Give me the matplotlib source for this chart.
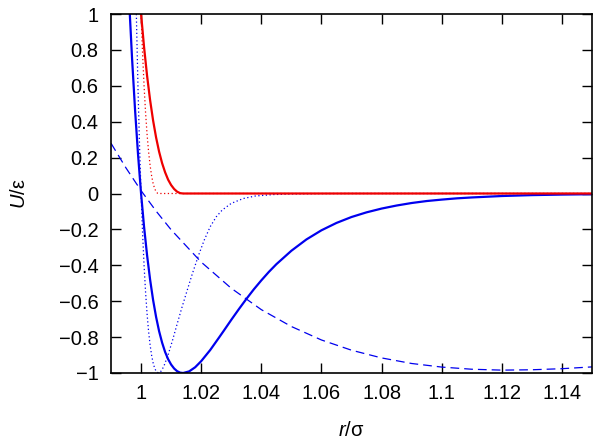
import matplotlib
matplotlib.use("Agg")
import matplotlib.pyplot as plt

plt.rcParams['font.family'] = ['Liberation Sans', 'DejaVu Sans']
plt.rcParams['mathtext.fontset'] = 'custom'
plt.rcParams['mathtext.rm'] = 'Liberation Sans'
plt.rcParams['mathtext.it'] = 'Liberation Sans:italic'

# ---- data ----
# blue solid: full steep potential
solid_r = [0.996, 0.997, 0.998, 0.999, 1.000, 1.001, 1.002, 1.003, 1.004, 1.005,
           1.006, 1.007, 1.008, 1.009, 1.010, 1.011, 1.012, 1.013, 1.014, 1.016,
           1.018, 1.020, 1.023, 1.026, 1.0275, 1.030, 1.0325, 1.035, 1.0375, 1.040,
           1.0425, 1.045, 1.050, 1.055, 1.060, 1.065, 1.070, 1.075, 1.080, 1.085,
           1.090, 1.095, 1.100, 1.105, 1.110, 1.120, 1.130, 1.140, 1.150]
solid_u = [1.084, 0.754, 0.466, 0.216, 0.000, -0.186, -0.344, -0.479, -0.593, -0.688,
           -0.767, -0.831, -0.883, -0.923, -0.953, -0.975, -0.990, -0.998, -1.000, -0.991,
           -0.968, -0.934, -0.872, -0.801, -0.765, -0.704, -0.645, -0.588, -0.534, -0.484,
           -0.437, -0.394, -0.319, -0.256, -0.205, -0.164, -0.131, -0.105, -0.084, -0.067,
           -0.053, -0.042, -0.034, -0.027, -0.022, -0.014, -0.009, -0.006, -0.004]

# red solid: repulsive (shifted) part of the blue solid curve
rep_r = [0.996, 0.997, 0.998, 0.999, 1.000, 1.001, 1.002, 1.003, 1.004, 1.005,
         1.006, 1.007, 1.008, 1.009, 1.010, 1.011, 1.012, 1.013, 1.014, 1.150]
rep_u = [2.084, 1.754, 1.466, 1.216, 1.000, 0.815, 0.656, 0.521, 0.407, 0.312,
         0.233, 0.169, 0.118, 0.077, 0.047, 0.025, 0.010, 0.002, 0.000, 0.000]

# blue dotted: steeper, narrower potential
dot_r = [0.998, 0.9985, 0.999, 0.9995, 1.000, 1.0005, 1.001, 1.0015, 1.002, 1.0025,
         1.003, 1.0035, 1.004, 1.0045, 1.005, 1.0058, 1.0065, 1.0075, 1.009, 1.0105,
         1.012, 1.0135, 1.0152, 1.017, 1.019, 1.021, 1.023, 1.025, 1.027, 1.030,
         1.034, 1.038, 1.044, 1.050, 1.060, 1.070, 1.150]
dot_u = [1.381, 0.945, 0.575, 0.263, 0.000, -0.219, -0.401, -0.550, -0.671, -0.768,
         -0.843, -0.901, -0.943, -0.972, -0.990, -1.000, -0.993, -0.966, -0.899, -0.816,
         -0.727, -0.640, -0.547, -0.450, -0.350, -0.260, -0.185, -0.130, -0.092, -0.055,
         -0.028, -0.014, -0.006, -0.0025, -0.0005, 0.000, 0.000]

# red dotted: repulsive (shifted) part of the blue dotted curve
dotrep_r = [0.998, 0.9985, 0.999, 0.9995, 1.000, 1.0005, 1.001, 1.0015, 1.002, 1.0025,
            1.003, 1.0035, 1.004, 1.0045, 1.005, 1.0055, 1.0058, 1.150]
dotrep_u = [2.381, 1.945, 1.575, 1.263, 1.000, 0.781, 0.599, 0.450, 0.329, 0.233,
            0.157, 0.099, 0.057, 0.028, 0.010, 0.001, 0.000, 0.000]

# blue dashed: Lennard-Jones-like reference
lj_r = [0.990, 0.995, 1.000, 1.005, 1.010, 1.020, 1.030, 1.040, 1.050, 1.060,
        1.070, 1.080, 1.090, 1.100, 1.110, 1.120, 1.130, 1.140, 1.150]
lj_u = [0.280, 0.142, 0.016, -0.098, -0.202, -0.382, -0.528, -0.647, -0.741, -0.816,
        -0.873, -0.916, -0.947, -0.967, -0.979, -0.984, -0.982, -0.976, -0.966]

x_ticks = [1.00, 1.02, 1.04, 1.06, 1.08, 1.10, 1.12, 1.14]
x_tick_labels = ['1', '1.02', '1.04', '1.06', '1.08', '1.1', '1.12', '1.14']
y_ticks = [-1.0, -0.8, -0.6, -0.4, -0.2, 0.0, 0.2, 0.4, 0.6, 0.8, 1.0]
y_tick_labels = ['\u22121', '\u22120.8', '\u22120.6', '\u22120.4', '\u22120.2', '0',
                 '0.2', '0.4', '0.6', '0.8', '1']

# ---- figure ----
fig = plt.figure(figsize=(6.0, 4.46), dpi=100)
ax = fig.add_axes([111/600, 1 - 373/446, 481/600, 359/446])

blue = '#0000ee'
red = '#ee0000'

ax.plot(lj_r, lj_u, color=blue, lw=0.9, dashes=(7, 4))
ax.plot(dot_r, dot_u, color=blue, lw=0.9, dashes=(1, 2))
ax.plot(dotrep_r, dotrep_u, color=red, lw=0.9, dashes=(1, 2))
ax.plot(solid_r, solid_u, color=blue, lw=1.6)
ax.plot(rep_r, rep_u, color=red, lw=1.6)

ax.set_xlim(0.99, 1.15)
ax.set_ylim(-1, 1)
ax.set_xticks(x_ticks)
ax.set_xticklabels(x_tick_labels)
ax.set_yticks(y_ticks)
ax.set_yticklabels(y_tick_labels)

ax.tick_params(direction='in', top=True, right=True, length=7, width=1.0,
               labelsize=14.5, color='black')
ax.tick_params(axis='x', pad=8)
ax.tick_params(axis='y', pad=9)
for s in ax.spines.values():
    s.set_linewidth(1.2)

ax.set_xlabel('$r$/σ', fontsize=14.5, va='center')
ax.xaxis.set_label_coords(0.5, -0.159)
ax.set_ylabel('$U$/ε', fontsize=14.5, va='center')
ax.yaxis.set_label_coords(-0.19, 0.5)

fig.savefig('out.png', dpi=100)
